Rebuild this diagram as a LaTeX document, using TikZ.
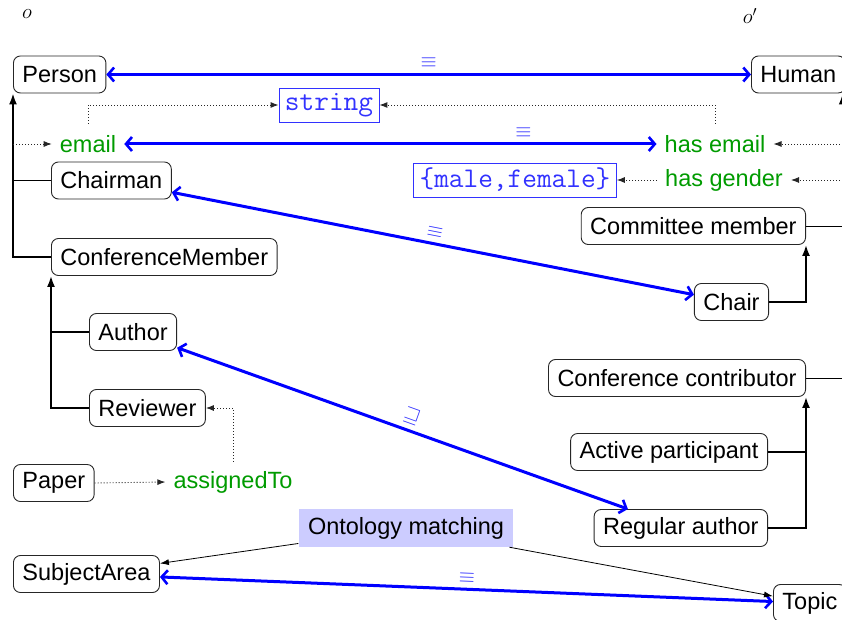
\documentclass[tikz,border=0pt]{standalone}
\usepackage{fontspec}
\setmainfont{Liberation Sans}
\usetikzlibrary{arrows.meta}
\definecolor{kgreen}{RGB}{0,155,0}
\definecolor{kblue}{RGB}{0,0,255}
\definecolor{lblue}{RGB}{50,50,255}
\definecolor{ofill}{RGB}{204,204,255}
\begin{document}
\begin{tikzpicture}[x=1pt,y=-1pt,
  txt/.style={font=\fontsize{23.5}{28}\selectfont},
  cls/.style={txt, draw=black!85, line width=0.9pt, rounded corners=7pt, inner xsep=9pt, inner ysep=0pt, minimum height=37pt},
  prop/.style={txt, text=kgreen, inner xsep=8pt, inner ysep=0pt, minimum height=40pt},
  dtype/.style={draw=lblue, line width=0.8pt, text=lblue, font=\ttfamily\fontsize{28.5}{30}\selectfont, inner xsep=6pt, inner ysep=0pt, minimum height=34pt},
  match/.style={txt, fill=ofill, inner xsep=9.5pt, inner ysep=0pt, minimum height=38pt},
  eqline/.style={draw=kblue, line width=3pt, {Straight Barb[length=6pt,width=14pt,line width=2.6pt]}-{Straight Barb[length=6pt,width=14pt,line width=2.6pt]}},
  eqlab/.style={text=lblue, font=\fontsize{21}{24}\selectfont, sloped, above=5pt, inner sep=0pt},
  hier/.style={line width=1.8pt, -{Latex[length=11pt,width=8pt]}},
  hline/.style={line width=1.8pt},
  thinline/.style={line width=1pt},
  dot/.style={line width=0.9pt, dash pattern=on 1pt off 2pt, black!85, -{Latex[length=8pt,width=6pt]}},
  mapline/.style={line width=0.8pt, -{Latex[length=9pt,width=6pt]}},
  olab/.style={font=\fontsize{22}{24}\selectfont, inner sep=0pt}
]
\useasboundingbox (0,0) rectangle (842,620);

% ontology labels
\node[olab] (o1) at (27,14) {$o$};
\node[olab] (o2) at (750,16) {$o'$};

% left ontology classes
\node[cls, anchor=west] (person) at (13,74.5) {Person};
\node[cls, anchor=west] (chairman) at (51,180.5) {Chairman};
\node[cls, anchor=west] (confmember) at (51,257) {ConferenceMember};
\node[cls, anchor=west] (author) at (89,332) {Author};
\node[cls, anchor=west] (reviewer) at (89,408) {Reviewer};
\node[cls, anchor=west] (paper) at (13,483) {Paper};
\node[cls, anchor=west] (subject) at (13,574) {SubjectArea};

% right ontology classes
\node[cls, anchor=west] (human) at (751,74.5) {Human};
\node[cls, anchor=east] (committee) at (806,226) {Committee member};
\node[cls, anchor=east] (chair) at (769,302) {Chair};
\node[cls, anchor=east] (conftrib) at (806,378) {Conference contributor};
\node[cls, anchor=east] (active) at (768,452) {Active participant};
\node[cls, anchor=east] (regular) at (768,528) {Regular author};
\node[cls, anchor=west] (topic) at (773,603) {Topic};
\coordinate (rtop) at ([xshift=-3pt]human.south east);

% properties and datatypes
\node[prop] (email) at (88,144) {email};
\node[prop] (hasemail) at (715,144) {has email};
\node[prop] (hasgender) at (724,180) {has gender};
\node[prop] (assigned) at (233,482) {assignedTo};
\node[dtype] (string) at (329,105) {string};
\node[dtype] (malefemale) at (515,180) {\{male,female\}};
\node[match] (matching) at (406,528) {Ontology matching};

% left hierarchy
\draw[hier] (confmember.west) -| (person.south west);
\draw[hline] (chairman.west) -- (chairman.west -| person.south west);
\draw[hier] (reviewer.west) -| (confmember.south west);
\draw[hline] (author.west) -- (author.west -| confmember.south west);

% right hierarchy
\draw[hier] (chair.east) -| (committee.south east);
\draw[hier] (regular.east) -| (conftrib.south east);
\draw[hline] (active.east) -- (active.east -| conftrib.south east);
\draw[thinline] (committee.east) -- (committee.east -| rtop);
\draw[thinline] (conftrib.east) -- (conftrib.east -| rtop);
\draw[hier] (conftrib.east -| rtop) -- (rtop);

% domains and ranges
\draw[dot] (email.west -| person.south west) -- (email.west);
\draw[dot] (email.north) |- (string.west);
\draw[dot] (hasemail.north) |- (string.east);
\draw[dot] (hasemail.east -| rtop) -- (hasemail.east);
\draw[dot] (hasgender.east -| rtop) -- (hasgender.east);
\draw[dot] (hasgender.west) -- (malefemale.east);
\draw[dot] (paper.east) -- (assigned.west);
\draw[dot] (assigned.north) |- (reviewer.east);

% correspondences
\draw[eqline] (person) -- node[eqlab] {$\equiv$} (human);
\draw[eqline] (email) -- node[eqlab, pos=0.75] {$\equiv$} (hasemail);
\draw[eqline] (chairman) -- node[eqlab] {$\equiv$} (chair);
\draw[eqline] (author) -- node[eqlab, pos=0.51] {$\sqsupseteq$} (regular);
\draw[eqline] (subject) -- node[eqlab] {$\equiv$} (topic);

% matching
\draw[mapline] (matching) -- (subject);
\draw[mapline] (matching) -- (topic);
\end{tikzpicture}
\end{document}
